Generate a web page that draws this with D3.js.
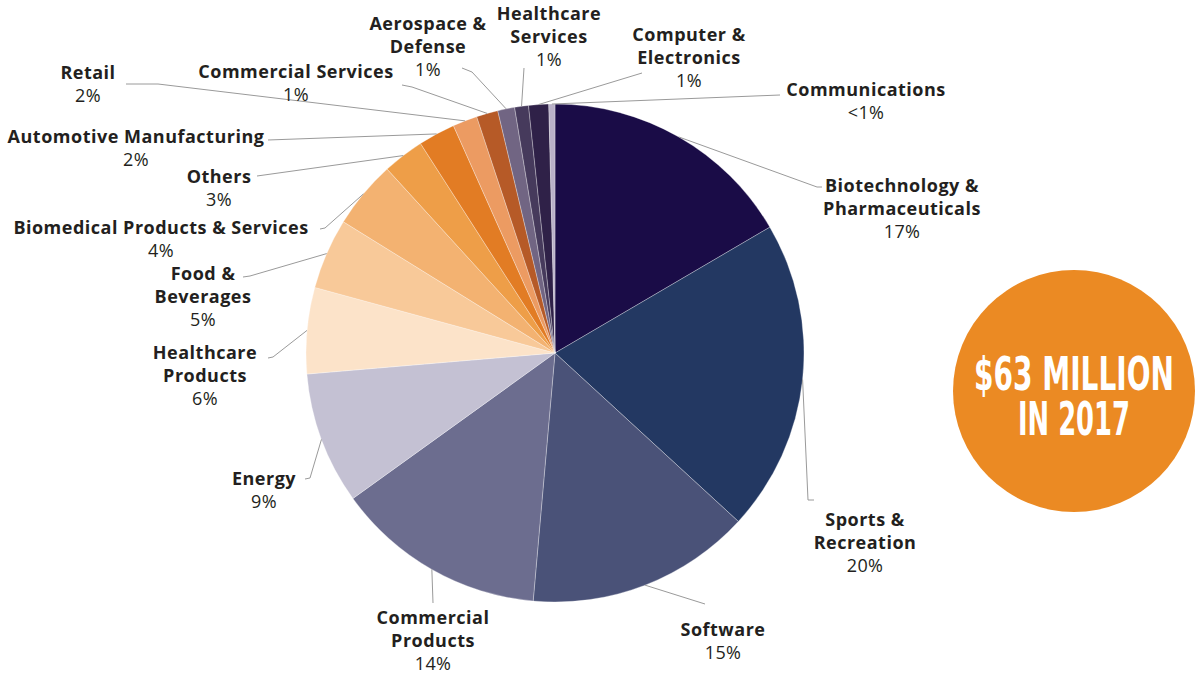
<!DOCTYPE html>
<html>
<head>
<meta charset="utf-8">
<script src="https://cdn.jsdelivr.net/npm/d3@7"></script>
<style>
  html, body { margin: 0; padding: 0; background: #fff; }
  svg { display: block; }
  .name { font-family: "Open Sans", sans-serif; font-weight: 700; font-size: 18px; letter-spacing: 0.5px; fill: #231f20; }
  .pct  { font-family: "Open Sans", sans-serif; font-weight: 400; font-size: 18px; letter-spacing: 0.3px; fill: #231f20; }
  .big  { font-family: "Liberation Sans Narrow", "DejaVu Sans Condensed", "Roboto", sans-serif; font-stretch: condensed; font-weight: 700; fill: #fff; }
</style>
</head>
<body>
<svg id="chart" width="1197" height="674"></svg>
<script>
// Share of investment by industry, clockwise from 12 o'clock
const categories = [
  "Biotechnology & Pharmaceuticals", "Sports & Recreation", "Software",
  "Commercial Products", "Energy", "Healthcare Products", "Food & Beverages",
  "Biomedical Products & Services", "Others", "Automotive Manufacturing",
  "Retail", "Commercial Services", "Aerospace & Defense", "Healthcare Services",
  "Computer & Electronics", "Communications"
];
const shares = [16.6, 20.3, 14.6, 13.7, 8.6, 5.6, 4.6, 4.4, 2.7, 2.4, 1.6, 1.4, 1.1, 0.9, 1.3, 0.4];
const colors = [
  "#1a0c47", "#233862", "#4a5278", "#6c6d8f", "#c4c1d3", "#fce3c9", "#f8c999",
  "#f3b271", "#ee9e48", "#e27c24", "#ec9b62", "#b65a27", "#716583", "#463a5c",
  "#2f2148", "#b9b1c8"
];
// How each label is broken into lines
const labelLines = [
  ["Biotechnology &", "Pharmaceuticals"], ["Sports &", "Recreation"], ["Software"],
  ["Commercial", "Products"], ["Energy"], ["Healthcare", "Products"], ["Food &", "Beverages"],
  ["Biomedical Products & Services"], ["Others"], ["Automotive Manufacturing"],
  ["Retail"], ["Commercial Services"], ["Aerospace &", "Defense"], ["Healthcare", "Services"],
  ["Computer &", "Electronics"], ["Communications"]
];
const headline = ["$63 MILLION", "IN 2017"];

// Layout: label centre x, first-line centre y, leader-line bend points
const layout = [
  { x: 902, y: 186, bends: [[817, 187], [822, 187]] },
  { x: 865, y: 520, bends: [[808, 500], [814, 500]] },
  { x: 723, y: 630, bends: [[705, 604]] },
  { x: 433, y: 618, bends: [[433, 603]] },
  { x: 264, y: 479, bends: [[310, 478], [305, 479]] },
  { x: 205, y: 353, bends: [[273, 357], [268, 358]] },
  { x: 203, y: 274, bends: [[250, 276], [243, 277]] },
  { x: 161, y: 228, bends: [[325, 228], [320, 229]] },
  { x: 219, y: 177, bends: [[257, 176]] },
  { x: 136, y: 137, bends: [[268, 140]] },
  { x: 88,  y: 73,  bends: [[158, 84], [126, 84]] },
  { x: 296, y: 72,  bends: [[412, 87], [402, 85]] },
  { x: 428, y: 24,  bends: [[472, 72], [462, 68]] },
  { x: 549, y: 14,  bends: [[524, 68]] },
  { x: 689, y: 35,  bends: [[642, 73]] },
  { x: 866, y: 90,  bends: [[780, 95]] }
];

const data = categories.map((c, i) => ({ name: c, value: shares[i], color: colors[i], lines: labelLines[i], lay: layout[i] }));

const svg = d3.select("#chart");
const cx = 555, cy = 353, R = 249;
const g = svg.append("g").attr("transform", `translate(${cx},${cy})`);

const pie = d3.pie().value(d => d.value).sort(null);
const arc = d3.arc().innerRadius(0).outerRadius(R);
const arcs = pie(data);

g.selectAll("path.slice")
  .data(arcs)
  .join("path")
  .attr("class", "slice")
  .attr("d", arc)
  .attr("fill", d => d.data.color)
  .attr("stroke", "#ffffff")
  .attr("stroke-opacity", 0.5)
  .attr("stroke-width", 0.6);

// Leader lines from the outer edge of each slice to its label
const line = d3.line();
svg.selectAll("path.leader")
  .data(arcs)
  .join("path")
  .attr("class", "leader")
  .attr("d", d => {
    const a = (d.startAngle + d.endAngle) / 2;
    const start = [cx + R * Math.sin(a), cy - R * Math.cos(a)];
    return line([start, ...d.data.lay.bends]);
  })
  .attr("fill", "none")
  .attr("stroke", "#9a9a9a")
  .attr("stroke-width", 1);

const pctText = v => v < 0.5 ? "<1%" : d3.format(".0f")(v) + "%";
const lineH = 22.7;

const labels = svg.selectAll("g.label")
  .data(arcs)
  .join("g")
  .attr("class", "label")
  .attr("transform", d => `translate(${d.data.lay.x},${d.data.lay.y})`);

labels.each(function(d) {
  const sel = d3.select(this);
  d.data.lines.forEach((t, i) => {
    sel.append("text").attr("class", "name")
      .attr("text-anchor", "middle").attr("dy", "0.35em")
      .attr("y", i * lineH).text(t);
  });
  sel.append("text").attr("class", "pct")
    .attr("text-anchor", "middle").attr("dy", "0.35em")
    .attr("y", d.data.lines.length * lineH).text(pctText(d.data.value));
});

// Total badge: condensed headline squeezed to a fixed width
const badge = svg.append("g").attr("transform", "translate(1074,391)");
badge.append("circle").attr("r", 121).attr("fill", "#eb8a23");
const headWidths = [200, 112];
const headY = [-1, 44];
headline.forEach((t, i) => {
  const holder = badge.append("g").attr("transform", `translate(0,${headY[i]})`);
  const txt = holder.append("text").attr("class", "big")
    .attr("text-anchor", "middle").attr("font-size", 46).text(t);
  const natural = txt.node().getComputedTextLength();
  txt.attr("transform", `scale(${headWidths[i] / natural},1)`);
});
</script>
</body>
</html>
